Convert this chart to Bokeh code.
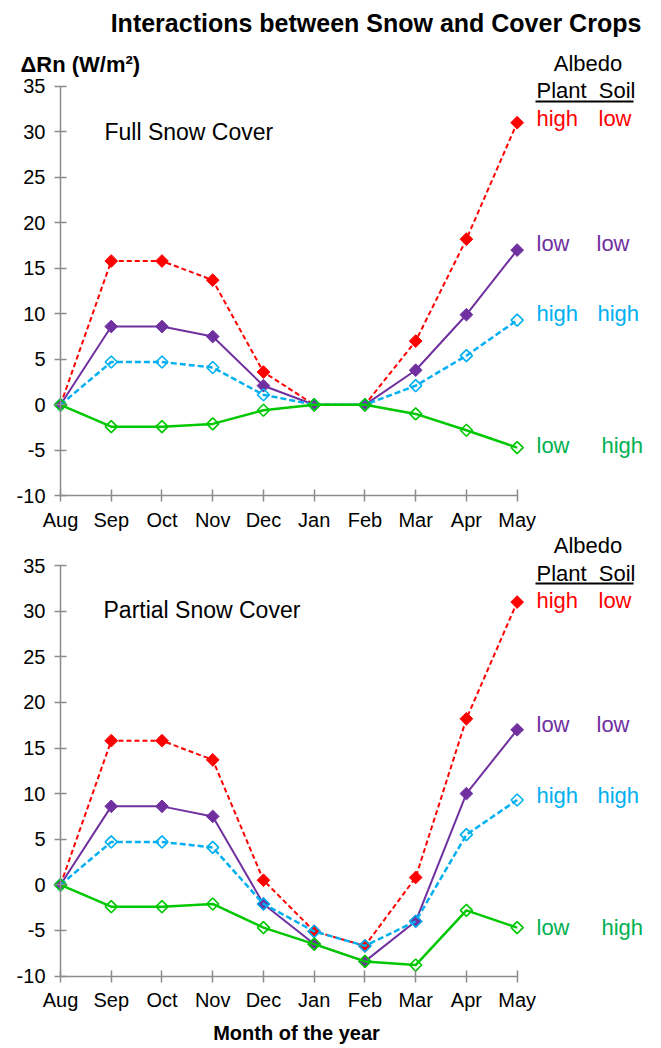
import numpy as np
from bokeh.plotting import figure
from bokeh.models import Range1d, LinearAxis, FixedTicker, Label, ColumnDataSource
from bokeh.embed import file_html
from bokeh.resources import INLINE

# ---------------- data ----------------
months = ["Aug", "Sep", "Oct", "Nov", "Dec", "Jan", "Feb", "Mar", "Apr", "May"]
y_ticks = [-10, -5, 0, 5, 10, 15, 20, 25, 30, 35]

# Full snow cover (delta Rn, W/m2)
full_red = [0, 15.8, 15.8, 13.7, 3.6, 0, 0, 7.0, 18.2, 31.0]      # plant high / soil low
full_purple = [0, 8.6, 8.6, 7.5, 2.1, 0, 0, 3.8, 9.9, 17.0]       # low / low
full_cyan = [0, 4.7, 4.7, 4.1, 1.1, 0, 0, 2.1, 5.4, 9.3]          # high / high
full_green = [0, -2.4, -2.4, -2.1, -0.6, 0, 0, -1.0, -2.8, -4.7]  # low / high

# Partial snow cover
partial_red = [0, 15.8, 15.8, 13.7, 0.5, -5.1, -6.7, 0.8, 18.2, 31.0]
partial_purple = [0, 8.6, 8.6, 7.5, -2.1, -6.5, -8.4, -4.0, 10.0, 17.0]
partial_cyan = [0, 4.7, 4.7, 4.1, -2.1, -5.1, -6.7, -4.0, 5.5, 9.3]
partial_green = [0, -2.4, -2.4, -2.1, -4.7, -6.5, -8.4, -8.8, -2.8, -4.7]

plant_albedo = ["high", "low", "high", "low"]
soil_albedo = ["low", "low", "high", "high"]

# ---------------- styling / layout ----------------
FONT = "Liberation Sans"
RED, PURPLE, CYAN, GREEN = "#FF0000", "#7030A0", "#00B0F0", "#00C800"
TEXT_COLORS = [RED, PURPLE, CYAN, "#00B050"]
LINE_COLORS = [RED, PURPLE, CYAN, GREEN]
LINE_WIDTHS = [2, 2, 2.5, 2.5]
DASHES = ["5 3", "solid", "6 3", "solid"]
FILLED = [True, True, False, False]
AXIS_GREY = "#8c8c8c"

W, H = 660, 1046
X0, PPX = 60.0, 50.74                 # canvas px of Aug, px per month
Y0_TOP, PPY_TOP = 404.3, 9.10         # canvas px of 0 in top panel, px per unit
Y0_BOT, PPY_BOT = 884.3, 9.12         # same for bottom panel


def dx(px):
    return (px - X0) / PPX


def ty(py):
    return (Y0_TOP - py) / PPY_TOP


def by(py):
    return (Y0_BOT - py) / PPY_BOT


p = figure(frame_width=W, frame_height=H,
           x_range=Range1d(dx(0), dx(W)), y_range=Range1d(ty(H), ty(0)),
           output_backend="svg", toolbar_location=None,
           x_axis_type=None, y_axis_type=None,
           min_border=0, min_border_left=0, min_border_right=0,
           min_border_top=0, min_border_bottom=0)
p.extra_y_ranges = {"bot": Range1d(by(H), by(0))}
p.outline_line_color = None
p.background_fill_color = "white"
p.border_fill_color = "white"


def style_axis(ax, standoff):
    ax.axis_line_color = AXIS_GREY
    ax.axis_line_width = 1.5
    ax.major_tick_line_color = AXIS_GREY
    ax.major_tick_line_width = 1.5
    ax.major_tick_in = 6
    ax.major_tick_out = 6
    ax.minor_tick_line_color = None
    ax.major_label_text_font = FONT
    ax.major_label_text_font_size = "20px"
    ax.major_label_text_color = "black"
    ax.major_label_standoff = standoff


x = list(range(len(months)))
panels = [
    ("default", [full_red, full_purple, full_cyan, full_green]),
    ("bot", [partial_red, partial_purple, partial_cyan, partial_green]),
]
for rname, series in panels:
    xaxis = LinearAxis(ticker=FixedTicker(ticks=x), bounds=(0, len(months) - 1),
                       fixed_location=y_ticks[0], y_range_name=rname,
                       major_label_overrides={i: m for i, m in enumerate(months)})
    yaxis = LinearAxis(ticker=FixedTicker(ticks=y_ticks), fixed_location=0,
                       bounds=(y_ticks[0], y_ticks[-1]), y_range_name=rname,
                       major_label_overrides={t: str(t) for t in y_ticks})
    style_axis(xaxis, 7)
    style_axis(yaxis, 9)
    p.add_layout(xaxis, "below")
    p.add_layout(yaxis, "left")

    for ys, col, lw, dash, filled in zip(series, LINE_COLORS, LINE_WIDTHS, DASHES, FILLED):
        src = ColumnDataSource(dict(x=x, y=ys))
        p.line("x", "y", source=src, y_range_name=rname, line_color=col,
               line_width=lw, line_dash=dash)
        p.scatter("x", "y", source=src, y_range_name=rname, marker="square",
                  angle=np.pi / 4, size=9 if filled else 8.5, line_color=col,
                  line_width=1 if filled else 1.6,
                  fill_color=col if filled else None)


def add_text(x_px, y_px, text, panel, size="22px", color="black", align="left",
             bold=False):
    yfun = ty if panel == "default" else by
    p.add_layout(Label(x=dx(x_px), y=yfun(y_px), y_range_name=panel, text=text,
                       text_font=FONT, text_font_size=size, text_color=color,
                       text_baseline="middle", text_align=align,
                       text_font_style="bold" if bold else "normal"))


# titles and axis captions
add_text(375.5, 22, "Interactions between Snow and Cover Crops", "default",
         size="25px", align="center", bold=True)
add_text(20, 64, "\u0394Rn (W/m\u00b2)", "default", size="22px", bold=True)
add_text(296, 1032, "Month of the year", "bot", size="20px", align="center", bold=True)

# panel captions
add_text(104, 131, "Full Snow Cover", "default", size="23px")
add_text(103, 609, "Partial Snow Cover", "bot", size="23px")

# legends (albedo of plant / soil)
legend_layout = [
    ("default", 63, 90, 101, [118, 242.5, 312.5, 445]),
    ("bot", 545, 573, 583, [600, 724, 795, 927]),
]
second_x = [598, 596, 597, 601]
for panel, y_alb, y_hdr, y_line, rows in legend_layout:
    yfun = ty if panel == "default" else by
    add_text(587.5, y_alb, "Albedo", panel, align="center")
    add_text(536, y_hdr, "Plant", panel)
    add_text(635, y_hdr, "Soil", panel, align="right")
    p.line([dx(535), dx(633)], [yfun(y_line), yfun(y_line)], y_range_name=panel,
           line_color="black", line_width=2)
    for pa, so, col, ry, sx in zip(plant_albedo, soil_albedo, TEXT_COLORS, rows, second_x):
        add_text(536, ry, pa, panel, color=col)
        add_text(sx, ry, so, panel, color=col)

open("out.html", "w").write(file_html(p, INLINE))
